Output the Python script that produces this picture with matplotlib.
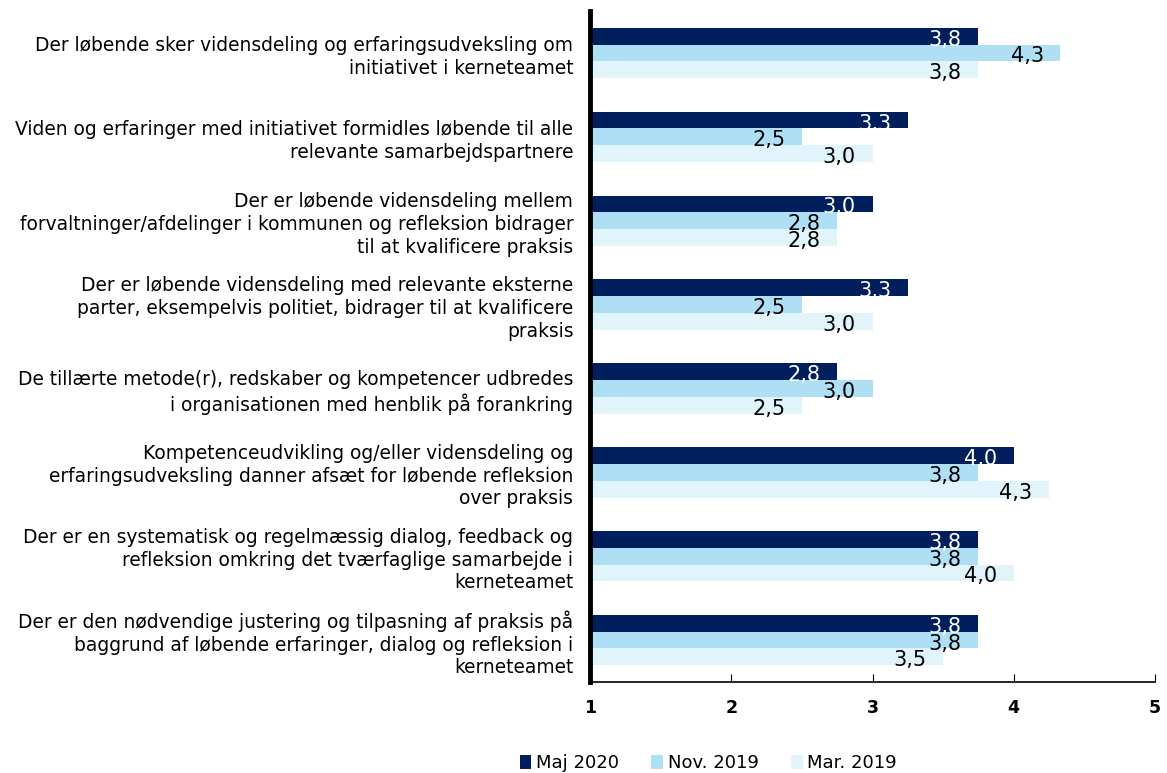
import numpy as np
import matplotlib
matplotlib.use("Agg")
import matplotlib.pyplot as plt

# ---------------------------------------------
# Data
# ---------------------------------------------

categories = [
    "Der løbende sker vidensdeling og erfaringsudveksling om\ninitiativet i kerneteamet",
    "Viden og erfaringer med initiativet formidles løbende til alle\nrelevante samarbejdspartnere",
    "Der er løbende vidensdeling mellem\nforvaltninger/afdelinger i kommunen og refleksion bidrager\ntil at kvalificere praksis",
    "Der er løbende vidensdeling med relevante eksterne\nparter, eksempelvis politiet, bidrager til at kvalificere\npraksis",
    "De tillærte metode(r), redskaber og kompetencer udbredes\ni organisationen med henblik på forankring",
    "Kompetenceudvikling og/eller vidensdeling og\nerfaringsudveksling danner afsæt for løbende refleksion\nover praksis",
    "Der er en systematisk og regelmæssig dialog, feedback og\nrefleksion omkring det tværfaglige samarbejde i\nkerneteamet",
    "Der er den nødvendige justering og tilpasning af praksis på\nbaggrund af løbende erfaringer, dialog og refleksion i\nkerneteamet",
]

maj_2020 = [3.75, 3.25, 3.0, 3.25, 2.75, 4.0, 3.75, 3.75]
nov_2019 = [4.33, 2.5, 2.75, 2.5, 3.0, 3.75, 3.75, 3.75]
mar_2019 = [3.75, 3.0, 2.75, 3.0, 2.5, 4.25, 4.0, 3.5]

series_names = ["Maj 2020", "Nov. 2019", "Mar. 2019"]
x_ticks = [1, 2, 3, 4, 5]

# ---------------------------------------------
# Plot
# ---------------------------------------------

plt.rcParams['font.family'] = ['DejaVu Sans']

fig = plt.figure(figsize=(11.67, 7.73), dpi=100)
ax = fig.add_axes([0.5056, 0.1177, 0.4841, 0.868])

colors = ["#001f5c", "#afdff5", "#e1f3fb"]
text_colors = ["white", "black", "black"]
series = [maj_2020, nov_2019, mar_2019]

y = np.arange(len(categories))
h = 0.2
offsets = [-h, 0, h]

base = 1
for vals, name, col, tcol, off in zip(series, series_names, colors, text_colors, offsets):
    widths = [v - base for v in vals]
    ax.barh(y + off, widths, height=h, left=base, color=col, label=name)
    for yy, v in zip(y + off, vals):
        lab = f"{v + 1e-9:.1f}".replace(".", ",")
        ax.annotate(lab, xy=(v, yy), xytext=(-12, -2.5), textcoords="offset points",
                    ha="right", va="center", fontsize=15, color=tcol)

ax.set_xlim(1, 5)
ax.set_ylim(len(categories) - 0.5, -0.5)
ax.set_yticks(y)
ax.set_yticklabels(categories, fontsize=13.4, ha="right", linespacing=1.25)
ax.tick_params(axis="y", length=0, pad=12)

ax.set_xticks(x_ticks)
ax.set_xticklabels([str(t) for t in x_ticks], fontsize=12.5, fontweight="bold")
ax.tick_params(axis="x", direction="in", length=6, width=0.8, pad=12)

for s in ["top", "right"]:
    ax.spines[s].set_visible(False)
ax.spines["left"].set_linewidth(3.5)
ax.spines["bottom"].set_linewidth(1.2)

fig.legend(loc="lower center", bbox_to_anchor=(0.607, -0.02), ncol=3, frameon=False,
           fontsize=13, handlelength=0.65, handleheight=0.8, handletextpad=0.25,
           columnspacing=1.8)

plt.savefig("out.png", dpi=100)
